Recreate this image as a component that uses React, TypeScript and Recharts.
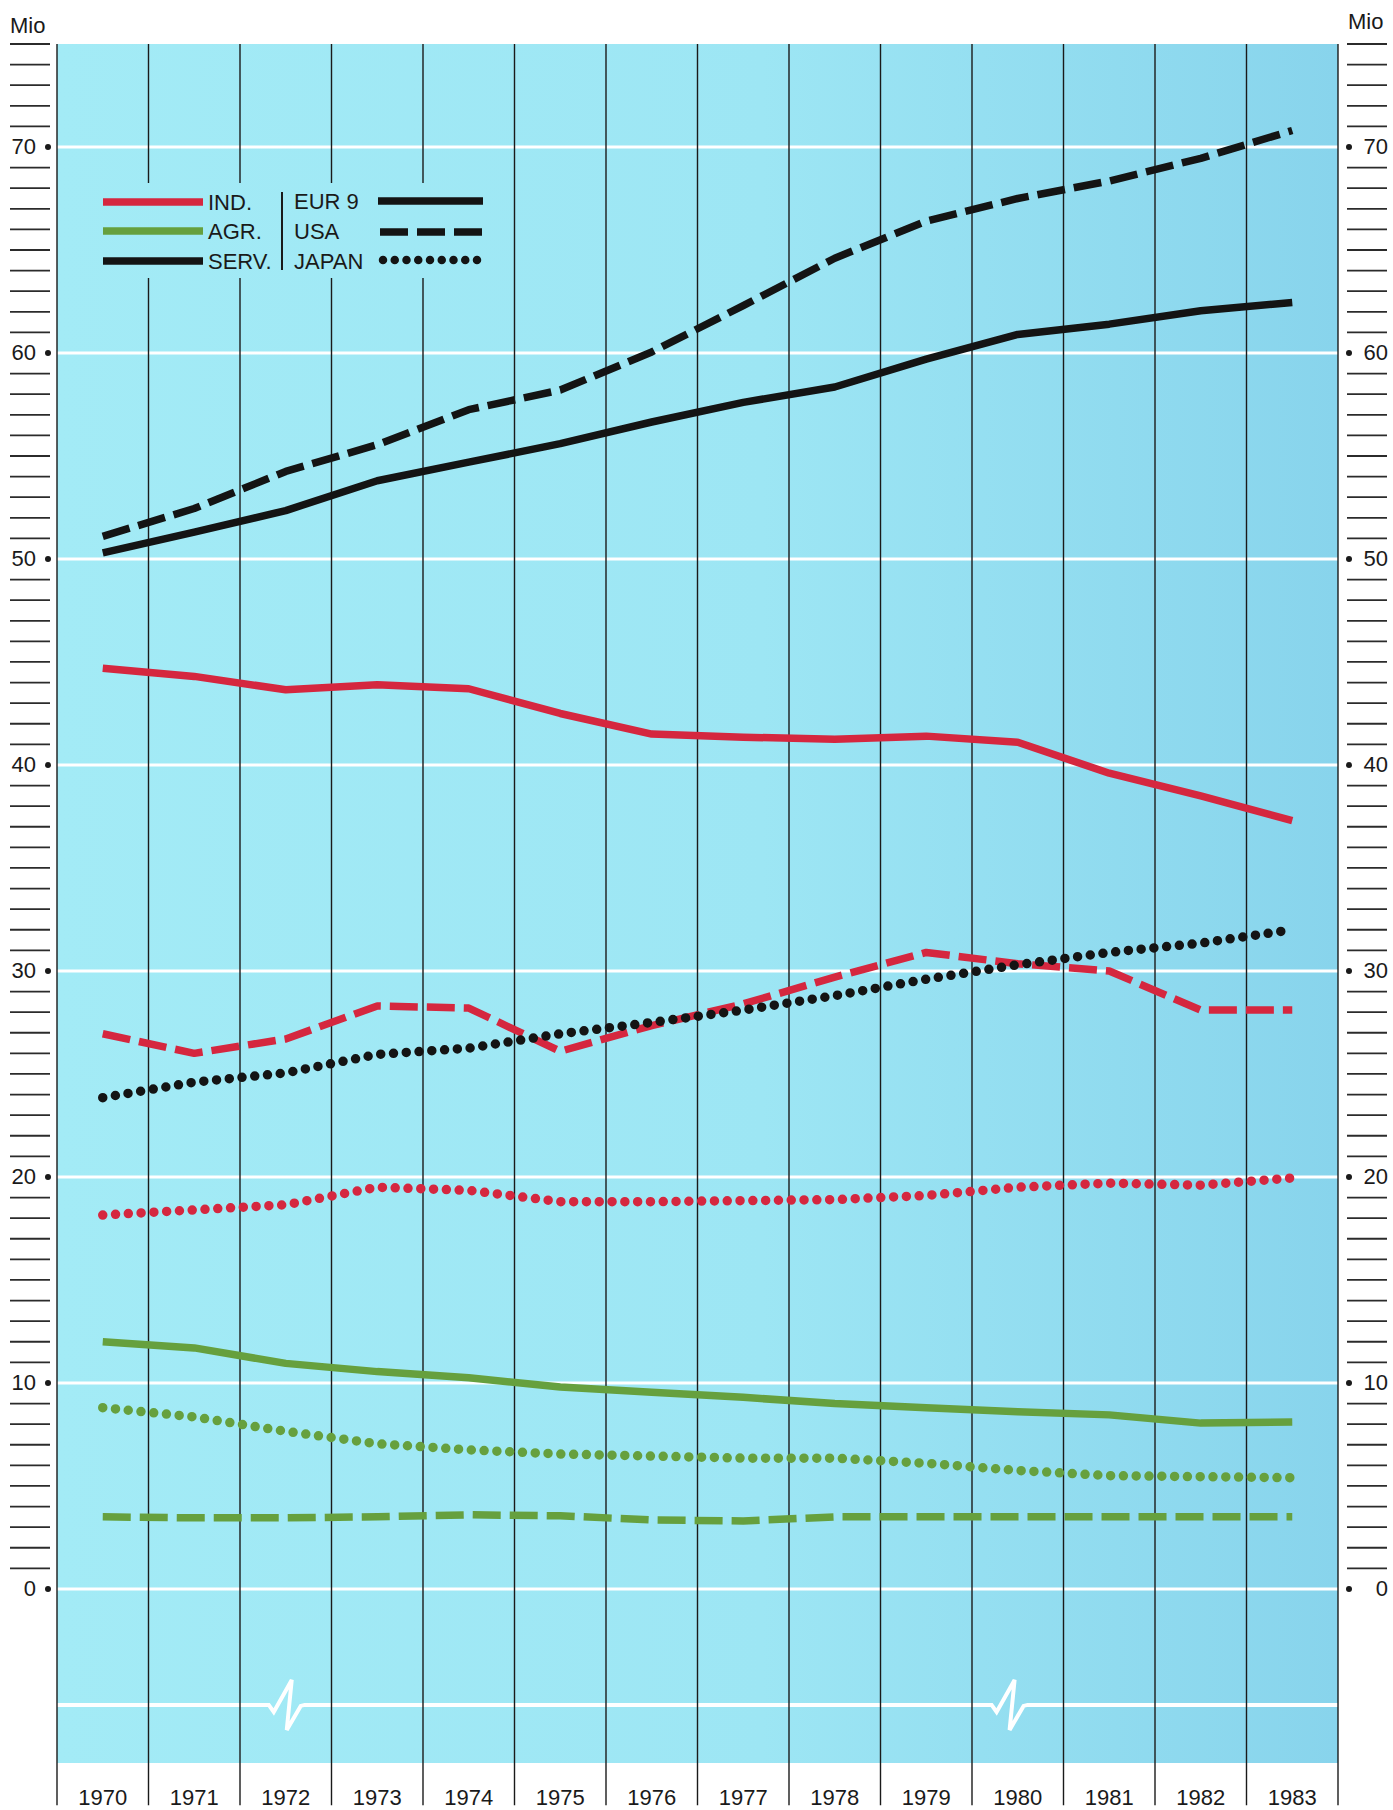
import React from 'react';
import { LineChart, Line, XAxis, YAxis, ReferenceLine, ReferenceArea } from 'recharts';

// ---- data (million persons employed) ----
const years = ['1970', '1971', '1972', '1973', '1974', '1975', '1976', '1977', '1978', '1979', '1980', '1981', '1982', '1983'];

const servEur9 = [50.3, 51.3, 52.35, 53.8, 54.7, 55.6, 56.65, 57.6, 58.35, 59.7, 60.9, 61.4, 62.05, 62.45];
const servUsa = [51.1, 52.45, 54.25, 55.55, 57.25, 58.2, 60.05, 62.3, 64.6, 66.4, 67.5, 68.35, 69.45, 70.8];
const servJapan = [23.85, 24.6, 25.05, 25.95, 26.25, 26.95, 27.5, 28.1, 28.8, 29.6, 30.3, 30.9, 31.35, 32.0];

const indEur9 = [44.7, 44.3, 43.65, 43.9, 43.7, 42.5, 41.5, 41.35, 41.25, 41.4, 41.1, 39.6, 38.5, 37.3];
const indUsa = [26.95, 26.0, 26.7, 28.3, 28.2, 26.1, 27.35, 28.4, 29.7, 30.9, 30.35, 30.0, 28.1, 28.1];
const indJapan = [18.15, 18.4, 18.65, 19.5, 19.35, 18.8, 18.8, 18.85, 18.9, 19.1, 19.5, 19.7, 19.6, 19.95];

const agrEur9 = [12.0, 11.7, 10.95, 10.55, 10.25, 9.8, 9.55, 9.3, 9.0, 8.8, 8.6, 8.45, 8.05, 8.1];
const agrUsa = [3.5, 3.45, 3.45, 3.5, 3.6, 3.55, 3.35, 3.3, 3.5, 3.5, 3.5, 3.5, 3.5, 3.5];
const agrJapan = [8.8, 8.35, 7.65, 7.05, 6.75, 6.55, 6.45, 6.35, 6.35, 6.1, 5.75, 5.5, 5.45, 5.4];

const gridValues = [0, 10, 20, 30, 40, 50, 60, 70];
const yTickValues = Array.from({ length: 76 }, (_, k) => k);
const xTickValues = years.map((_, i) => i);
const boundaries = Array.from({ length: years.length + 1 }, (_, k) => k - 0.5);
const breakXs = [2, 9.9];
const breakLevel = -5.63;

const xDomain: [number, number] = [-0.5, 13.5];
const yDomain: [number, number] = [-8.45, 75];

const data = years.map((year, i) => ({
  i,
  year,
  servEur9: servEur9[i],
  servUsa: servUsa[i],
  servJapan: servJapan[i],
  indEur9: indEur9[i],
  indUsa: indUsa[i],
  indJapan: indJapan[i],
  agrEur9: agrEur9[i],
  agrUsa: agrUsa[i],
  agrJapan: agrJapan[i],
}));

// ---- styles ----
const W = 1393;
const H = 1810;
const RED = '#d5273f';
const GREEN = '#66a03e';
const BLACK = '#141414';
const INK = '#1a1a1a';
const FONT = '"Liberation Sans", Arial, Helvetica, sans-serif';
const SOLID = { strokeWidth: 7.5 };
const DASHED = { strokeWidth: 7.5, strokeDasharray: '28 9' };
const DOTTED = { strokeWidth: 9.5, strokeDasharray: '0 12.8', strokeLinecap: 'round' as const };

const series = [
  { key: 'agrUsa', color: GREEN, style: DASHED, axis: 'left' },
  { key: 'agrJapan', color: GREEN, style: DOTTED, axis: 'left' },
  { key: 'agrEur9', color: GREEN, style: SOLID, axis: 'left' },
  { key: 'indJapan', color: RED, style: DOTTED, axis: 'left' },
  { key: 'indUsa', color: RED, style: DASHED, axis: 'left' },
  { key: 'indEur9', color: RED, style: SOLID, axis: 'left' },
  { key: 'servJapan', color: BLACK, style: DOTTED, axis: 'left' },
  { key: 'servUsa', color: BLACK, style: DASHED, axis: 'left' },
  { key: 'servEur9', color: BLACK, style: SOLID, axis: 'right' },
];

const LeftTick = (props: any) => {
  const { x, y, payload } = props;
  const v = payload.value;
  if (v % 10 === 0) {
    return (
      <g>
        <text x={x - 21} y={y} textAnchor="end" dominantBaseline="central" fontSize={22} fontFamily={FONT} fill={INK}>
          {v}
        </text>
        <circle cx={x - 9} cy={y} r={3} fill={INK} />
      </g>
    );
  }
  return <line x1={x - 47} x2={x - 7} y1={y} y2={y} stroke="#2b2b2b" strokeWidth={1.8} />;
};

const RightTick = (props: any) => {
  const { x, y, payload } = props;
  const v = payload.value;
  if (v % 10 === 0) {
    return (
      <g>
        <circle cx={x + 11} cy={y} r={3} fill={INK} />
        <text x={x + 50} y={y} textAnchor="end" dominantBaseline="central" fontSize={22} fontFamily={FONT} fill={INK}>
          {v}
        </text>
      </g>
    );
  }
  return <line x1={x + 9} x2={x + 49} y1={y} y2={y} stroke="#2b2b2b" strokeWidth={1.8} />;
};

const YearTick = (props: any) => {
  const { x, y, payload } = props;
  return (
    <text x={x} y={y + 34} textAnchor="middle" dominantBaseline="central" fontSize={22} fontFamily={FONT} fill={INK}>
      {years[payload.value]}
    </text>
  );
};

const BreakShape = (props: any) => {
  const { x1, x2, y1 } = props;
  const span = x2 - x1;
  const centers = breakXs.map((b) => x1 + (span * (b - xDomain[0])) / (xDomain[1] - xDomain[0]));
  let d = `M${x1},${y1}`;
  centers.forEach((c) => {
    d += ` L${c - 17},${y1} L${c - 12},${y1 + 7} L${c + 6},${y1 - 25} L${c + 1},${y1 + 25} L${c + 15},${y1 + 1} L${c + 19},${y1}`;
  });
  d += ` L${x2},${y1}`;
  return <path d={d} stroke="#ffffff" strokeWidth={4} fill="none" strokeLinejoin="miter" />;
};

const Overlay = () => (
  <svg
    width={W}
    height={H}
    style={{ position: 'absolute', left: 0, top: 0, pointerEvents: 'none' }}
  >
    <defs>
      <linearGradient id="bgGrad" gradientUnits="userSpaceOnUse" x1={57} y1={0} x2={1338} y2={0}>
        <stop offset="0%" stopColor="#a3ebf6" />
        <stop offset="55%" stopColor="#9de6f4" />
        <stop offset="100%" stopColor="#88d4ec" />
      </linearGradient>
    </defs>
    <text x={10} y={25} dominantBaseline="central" fontSize={22} fontFamily={FONT} fill={INK}>Mio</text>
    <text x={1348} y={21} dominantBaseline="central" fontSize={22} fontFamily={FONT} fill={INK}>Mio</text>
    {/* legend */}
    <rect x={96} y={183} width={394} height={95} fill="url(#bgGrad)" />
    <g fontSize={22} fontFamily={FONT} fill={INK}>
      <line x1={103} x2={203} y1={202} y2={202} stroke={RED} strokeWidth={7.5} />
      <line x1={103} x2={203} y1={231} y2={231} stroke={GREEN} strokeWidth={7.5} />
      <line x1={103} x2={203} y1={261} y2={261} stroke={BLACK} strokeWidth={7.5} />
      <text x={208} y={202} dominantBaseline="central">IND.</text>
      <text x={208} y={231} dominantBaseline="central">AGR.</text>
      <text x={208} y={261} dominantBaseline="central">SERV.</text>
      <line x1={282} x2={282} y1={192} y2={270} stroke={INK} strokeWidth={2} />
      <text x={294} y={201} dominantBaseline="central">EUR 9</text>
      <text x={294} y={231} dominantBaseline="central">USA</text>
      <text x={294} y={261} dominantBaseline="central">JAPAN</text>
      <line x1={378} x2={483} y1={201} y2={201} stroke={BLACK} strokeWidth={7.5} />
      <line x1={380} x2={483} y1={232} y2={232} stroke={BLACK} strokeWidth={7.5} strokeDasharray="28 9" />
      <line x1={383} x2={478} y1={260} y2={260} stroke={BLACK} strokeWidth={8.5} strokeDasharray="0 11.75" strokeLinecap="round" />
    </g>
  </svg>
);

export default function App() {
  return (
    <div style={{ position: 'absolute', left: 0, top: 0, width: W, height: H, background: '#ffffff' }}>
      <LineChart width={W} height={H} data={data} margin={{ top: 44, right: 0, bottom: 0, left: 0 }}>
        <XAxis
          dataKey="i"
          type="number"
          domain={xDomain}
          ticks={xTickValues}
          interval={0}
          axisLine={false}
          tickLine={false}
          tickSize={0}
          tickMargin={0}
          height={47}
          tick={<YearTick />}
        />
        <YAxis
          yAxisId="left"
          orientation="left"
          type="number"
          domain={yDomain}
          ticks={yTickValues}
          interval={0}
          width={57}
          axisLine={false}
          tickLine={false}
          tickSize={0}
          tickMargin={0}
          tick={<LeftTick />}
        />
        <YAxis
          yAxisId="right"
          orientation="right"
          type="number"
          domain={yDomain}
          ticks={yTickValues}
          interval={0}
          width={55}
          axisLine={false}
          tickLine={false}
          tickSize={0}
          tickMargin={0}
          tick={<RightTick />}
        />
        <ReferenceArea
          yAxisId="left"
          x1={xDomain[0]}
          x2={xDomain[1]}
          y1={yDomain[0]}
          y2={yDomain[1]}
          fill="url(#bgGrad)"
          fillOpacity={1}
          stroke="none"
          ifOverflow="visible"
        />
        {gridValues.map((v) => (
          <ReferenceLine key={`g${v}`} yAxisId="left" y={v} stroke="#ffffff" strokeWidth={3} />
        ))}
        <ReferenceLine yAxisId="left" y={breakLevel} stroke="#ffffff" strokeWidth={4} shape={BreakShape} />
        {boundaries.map((b) => (
          <ReferenceLine
            key={`b${b}`}
            yAxisId="left"
            segment={[{ x: b, y: yDomain[1] }, { x: b, y: -10.5 }]}
            stroke={INK}
            strokeWidth={1.4}
            ifOverflow="visible"
          />
        ))}
        {series.map((s) => (
          <Line
            key={s.key}
            yAxisId={s.axis}
            type="linear"
            dataKey={s.key}
            stroke={s.color}
            dot={false}
            activeDot={false}
            isAnimationActive={false}
            strokeLinejoin="round"
            {...s.style}
          />
        ))}
      </LineChart>
      <Overlay />
    </div>
  );
}
